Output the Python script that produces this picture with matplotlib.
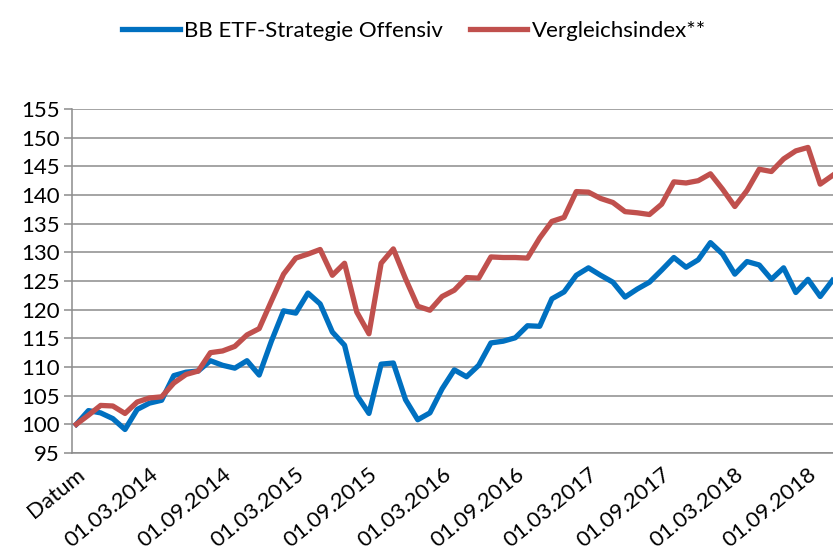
import numpy as np
import matplotlib
matplotlib.use("Agg")
import matplotlib.pyplot as plt

plt.rcParams['font.family'] = ['Lato', 'DejaVu Sans']

# monthly values, first point = 100
fonds = [100.0, 102.4, 102.0, 101.0, 99.1, 102.6, 103.7, 104.2, 108.5, 109.1,
         109.3, 111.1, 110.3, 109.8, 111.1, 108.6, 114.5, 119.8, 119.4, 122.9,
         121.0, 116.1, 113.8, 105.1, 101.9, 110.5, 110.7, 104.3, 100.8, 102.0,
         106.2, 109.5, 108.3, 110.3, 114.2, 114.5, 115.1, 117.2, 117.1, 121.9,
         123.1, 126.0, 127.3, 126.0, 124.8, 122.2, 123.6, 124.8, 126.9, 129.1,
         127.4, 128.7, 131.7, 129.7, 126.2, 128.4, 127.8, 125.3, 127.3, 123.0,
         125.3, 122.3, 125.1]
index = [100.0, 101.6, 103.3, 103.2, 101.9, 103.9, 104.6, 104.8, 107.2, 108.7,
         109.3, 112.5, 112.8, 113.6, 115.6, 116.7, 121.5, 126.2, 129.0, 129.7,
         130.5, 126.0, 128.1, 119.6, 115.8, 128.1, 130.6, 125.4, 120.6, 119.9,
         122.3, 123.4, 125.6, 125.5, 129.2, 129.1, 129.1, 129.0, 132.5, 135.4,
         136.1, 140.6, 140.5, 139.4, 138.7, 137.1, 136.9, 136.6, 138.4, 142.3,
         142.1, 142.5, 143.7, 141.0, 138.0, 140.8, 144.5, 144.1, 146.3, 147.7,
         148.3, 141.9, 143.4]
tick_labels = ["Datum", "01.03.2014", "01.09.2014", "01.03.2015", "01.09.2015",
               "01.03.2016", "01.09.2016", "01.03.2017", "01.09.2017",
               "01.03.2018", "01.09.2018"]
names = ["BB ETF-Strategie Offensiv", "Vergleichsindex**"]

x = np.arange(len(fonds))

fig = plt.figure(figsize=(8.33, 5.54), dpi=100)
ax = fig.add_axes([0.0864, 0.1823, 0.9136, 0.6209])

grid_col = '#8c8c8c'
ax.plot(x, fonds, color='#0070C0', lw=3.8, solid_joinstyle='round', label=names[0], zorder=3)
ax.plot(x, index, color='#C0504D', lw=3.8, solid_joinstyle='round', label=names[1], zorder=3)

ax.set_ylim(95, 155)
ax.set_yticks(np.arange(95, 156, 5))
ax.set_xlim(-0.35, 62.05)
ax.set_xticks(x[::6])
ax.set_xticklabels(tick_labels, rotation=39, ha='right', va='top', rotation_mode='anchor')

ax.grid(axis='y', color=grid_col, lw=1.1)
ax.set_axisbelow(True)
for s in ['top', 'right']:
    ax.spines[s].set_visible(False)
for s in ['left', 'bottom']:
    ax.spines[s].set_color(grid_col)
    ax.spines[s].set_linewidth(1.1)
ax.tick_params(axis='y', length=6, color=grid_col, width=1.1, labelsize=16, pad=3)
ax.tick_params(axis='x', length=0, labelsize=16, pad=8)

fig.legend(loc='upper center', bbox_to_anchor=(0.497, 0.998), ncol=2, frameon=False,
           fontsize=16, handlelength=2.6, handletextpad=0.2, columnspacing=1.2)

fig.savefig('out.png', dpi=100)
